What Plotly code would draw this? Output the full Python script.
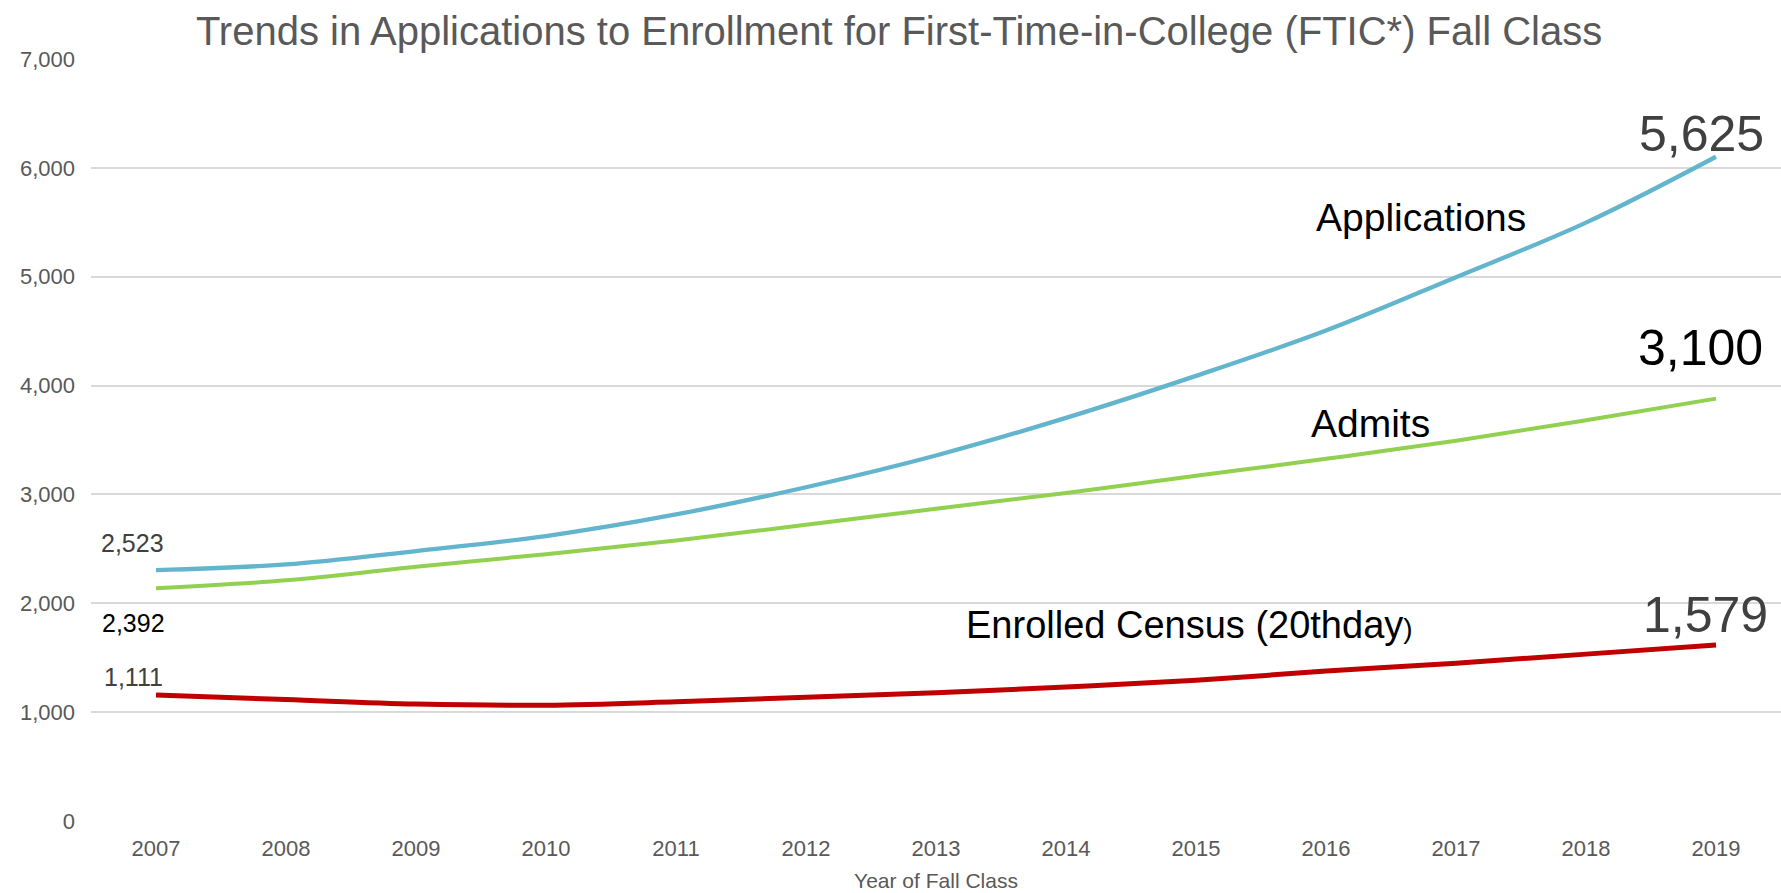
import plotly.graph_objects as go

years = list(range(2007, 2020))
applications = [2305, 2357, 2480, 2618, 2816, 3066, 3358, 3703, 4089, 4506, 4996, 5497, 6102]
admits = [2138, 2211, 2336, 2451, 2576, 2722, 2868, 3014, 3171, 3327, 3494, 3682, 3880]
enrolled = [1158, 1116, 1074, 1064, 1095, 1137, 1179, 1231, 1293, 1377, 1450, 1533, 1617]

y_ticks = [0, 1000, 2000, 3000, 4000, 5000, 6000, 7000]
y_ticklabels = ["0", "1,000", "2,000", "3,000", "4,000", "5,000", "6,000", "7,000"]

title = "Trends in Applications to Enrollment for First-Time-in-College (FTIC*) Fall Class"
x_title = "Year of Fall Class"

FONT = "Liberation Sans, Arial, sans-serif"

fig = go.Figure()
fig.add_trace(go.Scatter(x=years, y=applications, mode="lines", name="Applications",
                         line=dict(color="#62B5CD", width=4.3, shape="spline")))
fig.add_trace(go.Scatter(x=years, y=admits, mode="lines", name="Admits",
                         line=dict(color="#92D050", width=4, shape="spline")))
fig.add_trace(go.Scatter(x=years, y=enrolled, mode="lines", name="Enrolled",
                         line=dict(color="#C00000", width=5, shape="spline")))

def ann(text, x, y, size, color):
    fig.add_annotation(x=x, y=y, xref="x", yref="y", text=text, showarrow=False,
                       xanchor="center", yanchor="middle",
                       font=dict(family=FONT, size=size, color=color))

ann("2,523", 2006.82, 2558, 25, "#404040")
ann("2,392", 2006.83, 1818, 25, "#000000")
ann("1,111", 2006.83, 1321, 25, "#404040")
ann("5,625", 2018.89, 6313, 50, "#404040")
ann("Applications", 2016.73, 5542, 39, "#000000")
ann("3,100", 2018.88, 4346, 50, "#000000")
ann("Admits", 2016.34, 3649, 39, "#000000")
ann("Enrolled Census (20thday<span style='font-size:28px'>)</span>", 2014.95, 1800, 38, "#000000")
ann("1,579", 2018.92, 1892, 50, "#404040")

fig.update_layout(
    width=1781, height=893,
    paper_bgcolor="white", plot_bgcolor="white",
    margin=dict(l=91, r=0, t=59, b=72),
    showlegend=False,
    hovermode=False,
    title=dict(text=title, x=0.5048, xanchor="center", y=1 - 31 / 893, yanchor="middle",
               font=dict(family=FONT, size=40, color="#595959")),
    xaxis=dict(range=[2006.5, 2019.5], tickvals=years, ticktext=[str(y) for y in years],
               showgrid=False, zeroline=False, showline=False, ticks="", automargin=False,
               ticklabelstandoff=12,
               tickfont=dict(family=FONT, size=22, color="#595959"),
               title=dict(text=x_title, font=dict(family=FONT, size=21, color="#595959"), standoff=13)),
    yaxis=dict(range=[0, 7000], tickvals=y_ticks, ticktext=y_ticklabels,
               showgrid=True, gridcolor="#D9D9D9", gridwidth=2, zeroline=False,
               showline=False, ticks="", ticklabelstandoff=15, automargin=False,
               tickfont=dict(family=FONT, size=22, color="#595959")),
)

fig.write_html("out.html",
               config={"displayModeBar": False},
               post_script="document.body.style.margin='0';document.body.style.overflow='hidden';")
